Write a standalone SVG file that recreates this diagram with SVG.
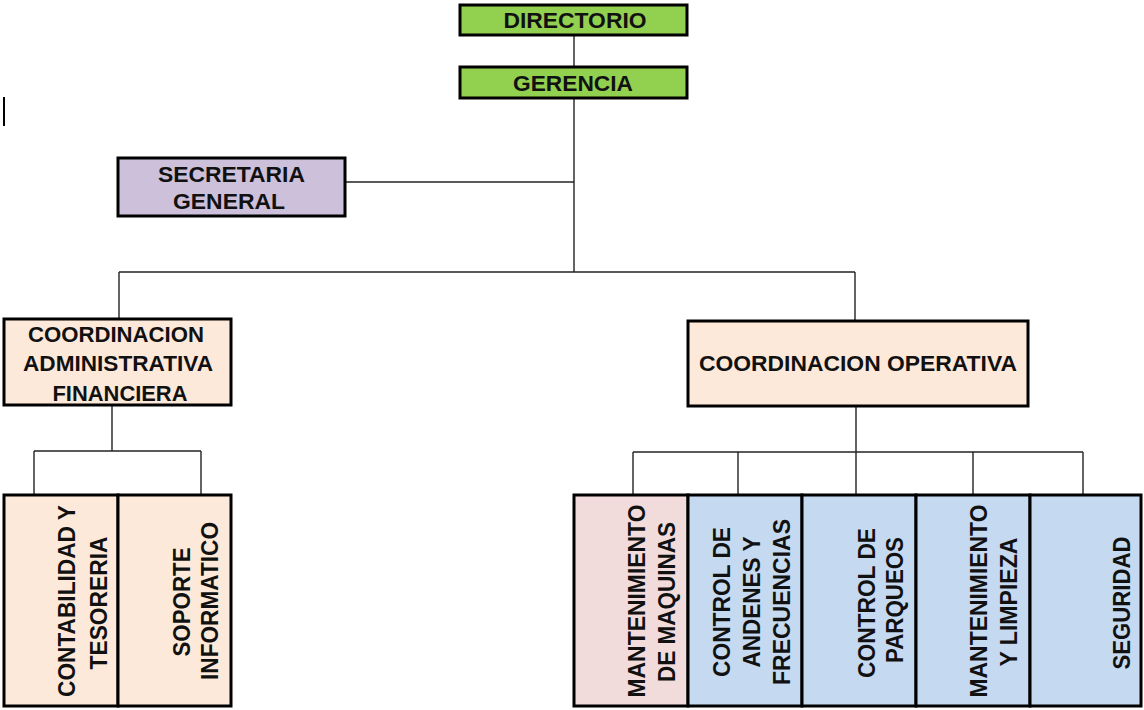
<svg xmlns="http://www.w3.org/2000/svg" width="1144" height="710" viewBox="0 0 1144 710">
<style>
.box{stroke:#000;stroke-width:3}
.g{fill:#92D050}.p{fill:#CCC0DA}.o{fill:#FDE9D9}.k{fill:#F2DCDB}.b{fill:#C5D9F1}
text{font-family:"Liberation Sans",Arial,sans-serif;font-weight:bold;font-size:22px;fill:#111;text-anchor:middle}
.v{font-size:23px}
.c line{stroke:#222;stroke-width:1.4}
</style>
<rect width="1144" height="710" fill="#fff"/>
<line x1="4" y1="97" x2="4" y2="126" stroke="#000" stroke-width="2"/>
<g class="c" id="connectors">
<line x1="574" y1="35" x2="574" y2="67"/>
<line x1="574" y1="98" x2="574" y2="272"/>
<line x1="346" y1="182" x2="574" y2="182"/>
<line x1="119" y1="272" x2="855" y2="272"/>
<line x1="119" y1="272" x2="119" y2="319"/>
<line x1="855" y1="272" x2="855" y2="321"/>
<line x1="112" y1="406" x2="112" y2="451"/>
<line x1="34" y1="451" x2="201" y2="451"/>
<line x1="34" y1="451" x2="34" y2="495"/>
<line x1="201" y1="451" x2="201" y2="495"/>
<line x1="856" y1="406" x2="856" y2="495"/>
<line x1="633" y1="452" x2="1083" y2="452"/>
<line x1="633" y1="452" x2="633" y2="495"/>
<line x1="738" y1="452" x2="738" y2="495"/>
<line x1="973" y1="452" x2="973" y2="495"/>
<line x1="1083" y1="452" x2="1083" y2="495"/>
</g>
<g id="directorio"><rect class="box g" x="460" y="5" width="227" height="30"/><text x="575" y="28" textLength="143" lengthAdjust="spacingAndGlyphs">DIRECTORIO</text></g>
<g id="gerencia"><rect class="box g" x="460" y="67" width="227" height="31"/><text x="573" y="91" textLength="120" lengthAdjust="spacingAndGlyphs">GERENCIA</text></g>
<g id="secretaria"><rect class="box p" x="118" y="158" width="227" height="58"/><text x="231.5" y="182" textLength="147" lengthAdjust="spacingAndGlyphs">SECRETARIA</text><text x="229" y="209" textLength="112" lengthAdjust="spacingAndGlyphs">GENERAL</text></g>
<g id="coord-admin"><rect class="box o" x="4" y="319" width="227" height="86"/><text x="116" y="342" textLength="176" lengthAdjust="spacingAndGlyphs">COORDINACION</text><text x="118" y="371" textLength="190" lengthAdjust="spacingAndGlyphs">ADMINISTRATIVA</text><text x="120" y="401" textLength="135" lengthAdjust="spacingAndGlyphs">FINANCIERA</text></g>
<g id="coord-oper"><rect class="box o" x="688" y="321" width="340" height="85"/><text x="858" y="371" textLength="318" lengthAdjust="spacingAndGlyphs">COORDINACION OPERATIVA</text></g>
<g id="contabilidad"><rect class="box o" x="4" y="495" width="114" height="211"/><text class="v" transform="translate(75,601) rotate(-90)" textLength="192" lengthAdjust="spacingAndGlyphs">CONTABILIDAD Y</text><text class="v" transform="translate(107,603) rotate(-90)" textLength="133" lengthAdjust="spacingAndGlyphs">TESORERIA</text></g>
<g id="soporte"><rect class="box o" x="118" y="495" width="113" height="211"/><text class="v" transform="translate(190,602) rotate(-90)" textLength="109" lengthAdjust="spacingAndGlyphs">SOPORTE</text><text class="v" transform="translate(218,601) rotate(-90)" textLength="158" lengthAdjust="spacingAndGlyphs">INFORMATICO</text></g>
<g id="mant-maquinas"><rect class="box k" x="574" y="495" width="114" height="211"/><text class="v" transform="translate(645,601) rotate(-90)" textLength="193" lengthAdjust="spacingAndGlyphs">MANTENIMIENTO</text><text class="v" transform="translate(675,602) rotate(-90)" textLength="160" lengthAdjust="spacingAndGlyphs">DE MAQUINAS</text></g>
<g id="control-andenes"><rect class="box b" x="688" y="495" width="114" height="211"/><text class="v" transform="translate(730,602) rotate(-90)" textLength="150" lengthAdjust="spacingAndGlyphs">CONTROL DE</text><text class="v" transform="translate(760,602) rotate(-90)" textLength="131" lengthAdjust="spacingAndGlyphs">ANDENES Y</text><text class="v" transform="translate(790,602) rotate(-90)" textLength="166" lengthAdjust="spacingAndGlyphs">FRECUENCIAS</text></g>
<g id="control-parqueos"><rect class="box b" x="802" y="495" width="114" height="211"/><text class="v" transform="translate(875,603) rotate(-90)" textLength="150" lengthAdjust="spacingAndGlyphs">CONTROL DE</text><text class="v" transform="translate(903,600) rotate(-90)" textLength="126" lengthAdjust="spacingAndGlyphs">PARQUEOS</text></g>
<g id="mant-limpieza"><rect class="box b" x="916" y="495" width="114" height="211"/><text class="v" transform="translate(987,601) rotate(-90)" textLength="193" lengthAdjust="spacingAndGlyphs">MANTENIMIENTO</text><text class="v" transform="translate(1017,602) rotate(-90)" textLength="129" lengthAdjust="spacingAndGlyphs">Y LIMPIEZA</text></g>
<g id="seguridad"><rect class="box b" x="1030" y="495" width="111" height="211"/><text class="v" transform="translate(1130,603) rotate(-90)" textLength="133" lengthAdjust="spacingAndGlyphs">SEGURIDAD</text></g>
</svg>
